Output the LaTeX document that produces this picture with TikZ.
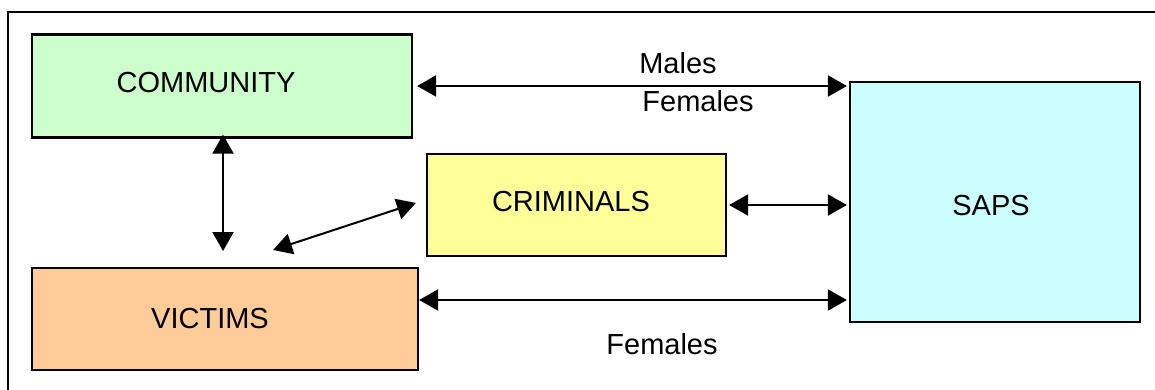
\documentclass[tikz,border=0pt]{standalone}
\usepackage{fontspec}
\setmainfont{Liberation Sans}
\usetikzlibrary{arrows.meta}

\definecolor{commgreen}{HTML}{CCFFCC}
\definecolor{victorange}{HTML}{FFCC99}
\definecolor{crimyellow}{HTML}{FFFF99}
\definecolor{sapscyan}{HTML}{CCFFFF}

\begin{document}
\begin{tikzpicture}[x=1pt,y=-1pt,<->,>={Triangle[length=19pt,width=21pt]},line width=2pt,
    every node/.style={font=\fontsize{29}{34}\selectfont},
    box/.style={draw,line width=2.2pt,inner sep=0pt}]

    \useasboundingbox (0,0) rectangle (1155,390);

    % outer frame
    \draw[-] (8,400) -- (8,12) -- (1170,12);

    \node[box,fill=commgreen,minimum width=380pt,minimum height=103pt]  (comm) at (222,86)  {};
    \node[box,fill=victorange,minimum width=386pt,minimum height=102pt] (vict) at (225,319) {};
    \node[box,fill=crimyellow,minimum width=299pt,minimum height=102pt] (crim) at (576.5,205) {};
    \node[box,fill=sapscyan,minimum width=290pt,minimum height=240pt]   (saps) at (995,202) {};

    \node (commtxt) at (206,83)  {COMMUNITY};
    \node (victtxt) at (210,319) {VICTIMS};
    \node (crimtxt) at (571,202) {CRIMINALS};
    \node (sapstxt) at (991,206) {SAPS};

    \coordinate (vv) at (223,251);
    \coordinate (vd) at (273,250);
    \coordinate (cd) at ([xshift=-10pt,yshift=2pt]crim.west);
    \coordinate (vs) at ([yshift=19pt]vict.east);

    \draw ([xshift=4pt]comm.east) -- ([xshift=-2pt]comm.east -| saps.west);
    \draw ([xshift=2pt]crim.east) -- ([xshift=-2pt]crim.east -| saps.west);
    \draw (vs) -- ([xshift=-2pt]vs -| saps.west);
    \draw ([yshift=4pt]comm.south -| vv) -- (vv);
    \draw (vd) -- (cd);

    \node (males)  at (678,63)  {Males};
    \node (fem1)   at (698,101) {Females};
    \node (fem2)   at (662,344) {Females};
\end{tikzpicture}
\end{document}
